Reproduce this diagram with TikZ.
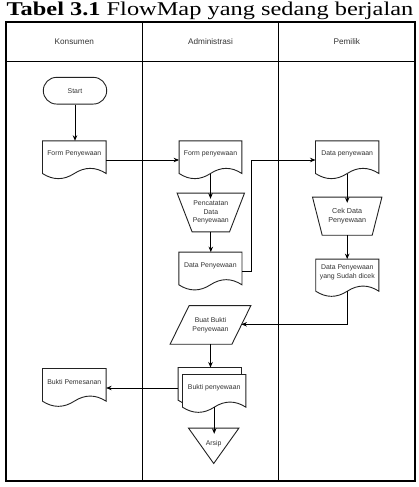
\documentclass[tikz,border=0pt]{standalone}
\usepackage{fontspec}
\setmainfont{Liberation Serif}
\newfontfamily\arialf{Liberation Sans}
\usetikzlibrary{arrows.meta,calc}
\definecolor{shapeline}{HTML}{222222}
\definecolor{txtgray}{HTML}{333333}
\tikzset{
  tbl/.style={draw=black,line width=1.1pt},
  shp/.style={draw=shapeline,line width=0.9pt,fill=white},
  body/.style={rectangle,inner sep=0pt,font=\arialf\fontsize{6.9}{8.2}\selectfont,text=txtgray,align=center},
  hdr/.style={font=\arialf\fontsize{8.2}{10}\selectfont,text=txtgray},
  conn/.style={draw=black,line width=0.9pt,-{Stealth[length=5.5pt,width=4.5pt]}},
}
\newcommand\docout[1]{%
  \path[shp] let \p1=(#1.north west), \p2=(#1.south east), \n1={\x2-\x1}, \n2={11.4} in
  (\x1,\y1) -- (\x2,\y1) -- (\x2,\y2-0.5*\n2)
  .. controls (\x2-\n1/6,\y2+0.1*\n2) and (\x2-\n1/3,\y2+0.1*\n2) .. (\x1+\n1/2,\y2-0.5*\n2)
  .. controls (\x1+\n1/3,\y2-1.1*\n2) and (\x1+\n1/6,\y2-1.1*\n2) .. (\x1,\y2-0.5*\n2) -- cycle;}
\begin{document}
\begin{tikzpicture}[x=1pt,y=-1pt]
\useasboundingbox (0,0) rectangle (419,487);
% title
\node (title) at (210,11) {\fontsize{19.5}{21}\selectfont\scalebox{1.25}[1]{\textbf{Tabel 3.1} FlowMap yang sedang berjalan}};
% table
\draw[tbl] (6,22) rectangle (415,481);
\draw[tbl] (6,61.7) -- (415,61.7);
\draw[tbl] (142.7,22) -- (142.7,481);
\draw[tbl] (278.3,22) -- (278.3,481);
\node[hdr] (h1) at (74.3,42) {Konsumen};
\node[hdr] (h2) at (210.5,42) {Administrasi};
\node[hdr] (h3) at (346.8,42) {Pemilik};
% start
\node[body,draw=shapeline,line width=0.9pt,minimum width=63.4pt,minimum height=26.7pt,rounded corners=13.3pt] (start) at (75,90.7) {Start};
% documents (body part)
\node[body,minimum width=63.3pt,minimum height=26.6pt] (fp1) at (74.3,154.3) {};
\docout{fp1}\node[body] at (fp1) {Form Penyewaan};
\node[body,minimum width=62.4pt,minimum height=26.6pt] (fp2) at (210.5,154.3) {};
\docout{fp2}\node[body] at (fp2) {Form penyewaan};
\node[body,minimum width=62.7pt,minimum height=26.6pt] (dp) at (210.4,265.6) {};
\docout{dp}\node[body] at (dp) {Data Penyewaan};
\node[body,minimum width=63pt,minimum height=26.6pt] (dpp) at (347.2,154.3) {};
\docout{dpp}\node[body] at (dpp) {Data penyewaan};
\node[body,minimum width=62.7pt,minimum height=26pt] (dsd) at (347.3,272.3) {};
\docout{dsd}\node[body] at (dsd) {Data Penyewaan\\yang Sudah dicek};
\node[body,minimum width=63.3pt,minimum height=26.6pt] (bpm) at (74.3,382) {};
\docout{bpm}\node[body] at (bpm) {Bukti Pemesanan};
% multi document
\node[body,minimum width=63pt,minimum height=26.6pt] (bp2) at (209.8,381) {};
\node[body,minimum width=63pt,minimum height=26.6pt] (bp) at (214.2,388) {};
\docout{bp2}\docout{bp}\node[body] at (bp) {Bukti penyewaan};
% trapezoids
\node[body,minimum width=67pt,minimum height=38.4pt] (pc) at (210.8,212.5) {};
\path[shp] (pc.north west) -- (pc.north east) -- ([xshift=-15pt]pc.south east) -- ([xshift=15pt]pc.south west) -- cycle;
\node[body] at (pc) {Pencatatan\\Data\\Penyewaan};
\node[body,minimum width=69pt,minimum height=37.7pt] (cek) at (347.2,216.2) {};
\path[shp] (cek.north west) -- (cek.north east) -- ([xshift=-9.7pt]cek.south east) -- ([xshift=9.7pt]cek.south west) -- cycle;
\node[body,font=\arialf\fontsize{7.2}{8.5}\selectfont] at (cek) {Cek Data\\Penyewaan};
% parallelogram
\node[body,minimum width=80.4pt,minimum height=38.3pt] (bb) at (210.5,324.9) {};
\path[shp] (bb.south west) -- ([xshift=19pt]bb.north west) -- (bb.north east) -- ([xshift=-19pt]bb.south east) -- cycle;
\node[body,font=\arialf\fontsize{6.9}{9}\selectfont] at (bb) {Buat Bukti\\Penyewaan};
% triangle
\node[body,minimum width=50pt,minimum height=35pt] (ar) at (213.7,445.8) {};
\path[shp] (ar.north west) -- (ar.north east) -- (ar.south) -- cycle;
\node[body] at ([yshift=2pt]ar.center) {Arsip};
% connectors
\draw[conn] (start.south) -- (start.south |- fp1.north);
\draw[conn] ([yshift=-5.7pt]fp1.east) -- ([yshift=-5.7pt]fp2.west);
\draw[conn] ([yshift=-5.7pt]fp2.south) -- ([yshift=-5.7pt]fp2.south |- pc.north);
\draw[conn] (pc.south) -- (pc.south |- dp.north);
\draw[conn] ([yshift=-5.7pt]dp.east) -- ++(9.5,0) |- ([yshift=-5.7pt]dpp.west);
\draw[conn] ([yshift=-5.7pt]dpp.south) -- ([yshift=-5.7pt]dpp.south |- cek.north);
\draw[conn] (cek.south) -- (cek.south |- dsd.north);
\draw[conn] ([yshift=-5.7pt]dsd.south) |- ([xshift=-9.5pt,yshift=0.6pt]bb.east);
\draw[conn] (bb.south) -- (bb.south |- bp2.north);
\draw[conn] (bp2.west |- bp.west) -- (bpm.east |- bp.west);
\draw[conn] ([yshift=-5.7pt]bp.south) -- ([yshift=-5.7pt]bp.south |- ar.north);
\end{tikzpicture}
\end{document}
